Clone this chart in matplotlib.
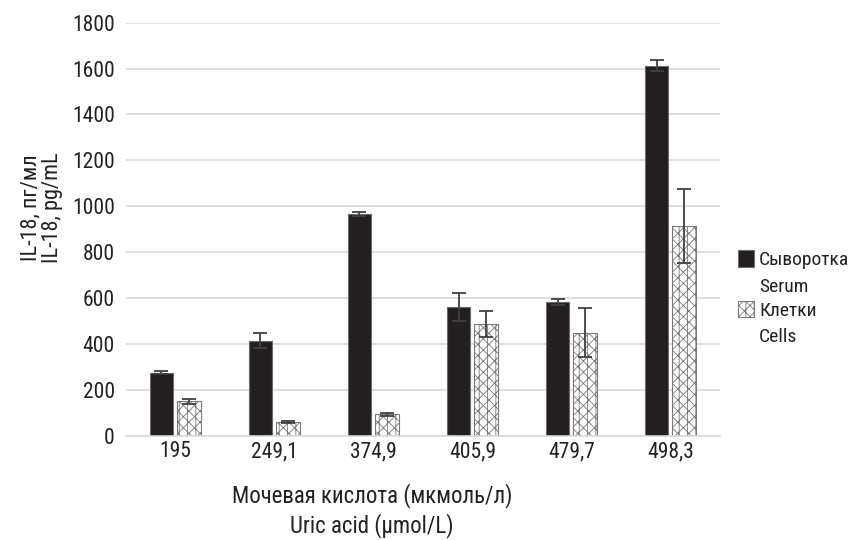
import numpy as np
import matplotlib.pyplot as plt
from matplotlib.patches import Rectangle
from matplotlib.legend_handler import HandlerPatch

plt.rcParams["font.family"] = ["Roboto Condensed", "Liberation Sans", "DejaVu Sans"]
plt.rcParams["hatch.color"] = "#8c8c8c"
plt.rcParams["hatch.linewidth"] = 0.6

categories = ["195", "249,1", "374,9", "405,9", "479,7", "498,3"]
serum = [275, 415, 967, 562, 582, 1612]
serum_err = [6, 33, 10, 60, 14, 24]
cells = [150, 60, 93, 487, 450, 913]
cells_err = [10, 4, 8, 55, 105, 162]

fig = plt.figure(figsize=(8.5, 5.4), dpi=100)
ax = fig.add_axes([0.148, 0.193, 0.699, 0.765])

x = np.arange(len(categories))
w = 0.24
off = 0.14

err_kw = dict(ecolor="#404040", elinewidth=1.3, capsize=5, capthick=1.3)
b1 = ax.bar(x - off, serum, w, color="#231f20", edgecolor="#6b6b6b", linewidth=0.8,
            yerr=serum_err, error_kw=err_kw, zorder=2)
b2 = ax.bar(x + off, cells, w, color="white", edgecolor="#7a7a7a", linewidth=0.8,
            hatch="xxx||", yerr=cells_err, error_kw=err_kw, zorder=2)

ax.set_xlim(-0.5, len(categories) - 0.5)
ax.set_ylim(0, 1800)
ax.set_yticks(range(0, 1801, 200))
ax.set_xticks(x)
ax.set_xticklabels(categories)
ax.tick_params(axis="both", labelsize=15.5, colors="#222222")
ax.tick_params(axis="y", length=0, pad=8)
ax.tick_params(axis="x", length=0, pad=4)
ax.yaxis.grid(True, color="#d9d9d9", linewidth=1.2, zorder=0)
ax.set_axisbelow(True)
for side in ["top", "right", "left"]:
    ax.spines[side].set_visible(False)
ax.spines["bottom"].set_color("#d9d9d9")
ax.spines["bottom"].set_linewidth(1.2)

ax.set_ylabel("IL-18, пг/мл\nIL-18, pg/mL", fontsize=16, color="#222222",
              linespacing=1.05)
ax.yaxis.set_label_coords(-0.106, 0.552)
ax.set_xlabel("Мочевая кислота (мкмоль/л)\nUric acid (µmol/L)", fontsize=16.5,
              color="#222222", linespacing=1.25)
ax.xaxis.set_label_coords(0.414, -0.115)


# legend square sits next to the first line of each two-line label
def top_square(legend, orig_handle, xdescent, ydescent, width, height, fontsize):
    s = width
    return Rectangle((-xdescent, -ydescent + height - s + 0.42 * fontsize), s, s)


leg = ax.legend([b1.patches[0], b2.patches[0]],
                ["Сыворотка\nSerum", "Клетки\nCells"],
                loc="upper left", bbox_to_anchor=(1.01, 0.475), frameon=False,
                fontsize=14, handlelength=0.85, handleheight=2.2,
                handletextpad=0.25, labelspacing=0.3, borderaxespad=0.2,
                handler_map={Rectangle: HandlerPatch(patch_func=top_square)})
for t in leg.get_texts():
    t.set_color("#222222")
    t.set_linespacing(1.62)

fig.savefig("out.png", dpi=100)
